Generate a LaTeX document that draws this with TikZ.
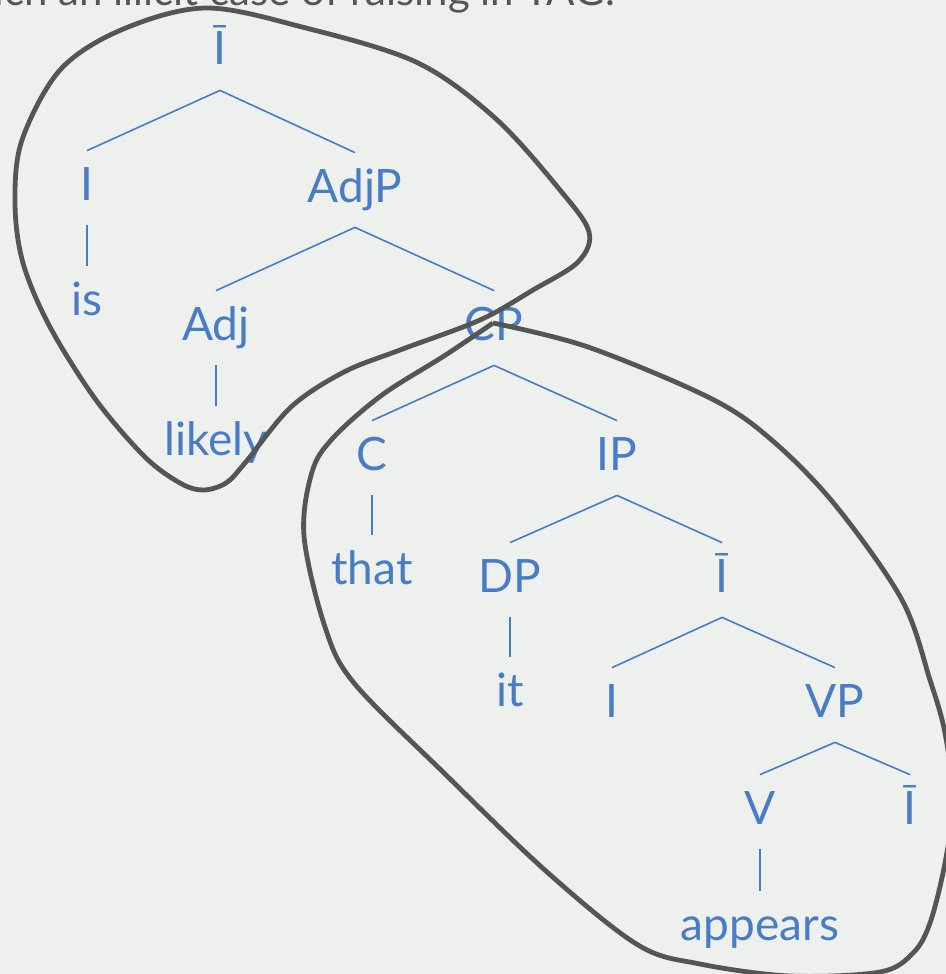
\documentclass[tikz,border=0pt]{standalone}
\usepackage{fontspec}
\setmainfont{Lato}
\usetikzlibrary{math}
\definecolor{qblue}{RGB}{72,124,196}
\definecolor{qgray}{RGB}{85,85,85}
\definecolor{qpaper}{RGB}{238,240,237}

\tikzset{
  cat/.style={text=qblue, font=\fontsize{23}{23}\selectfont, anchor=base,
    text height=17pt, text depth=5pt, inner xsep=0pt, inner ysep=7.5pt},
  branch/.style={qblue, line width=0.8pt},
  treeline/.style={qgray, line width=2.4pt, line join=round},
}

\begin{document}
\begin{tikzpicture}[x=0.5pt, y=-0.5pt]

\tikzmath{
\W = 946;
\H = 974;
}

\fill[qpaper] (0,0) rectangle (\W,\H);
\useasboundingbox (0,0) rectangle (\W,\H);
\clip (0,0) rectangle (\W,\H);

\node[anchor=base east, text=qgray, font=\fontsize{21}{21}\selectfont] (title)
  at (622,6) {Such an illicit case of raising in TAG.};

% auxiliary tree: I-bar over is likely
\node[cat] (ibar)   at (220,65)  {Ī};
\node[cat] (infl)   at (87,200)  {I};
\node[cat] (adjp)   at (355,202) {AdjP};
\node[cat] (is)     at (87,315)  {is};
\node[cat] (adj)    at (216,340) {Adj};
\node[cat] (likely) at (216,455) {likely};

% initial tree: CP that it appears
\node[cat] (cp)       at (494,340) {CP};
\node[cat] (comp)     at (372,470) {C};
\node[cat] (ip)       at (617,470) {IP};
\node[cat] (that)     at (372,584) {that};
\node[cat] (dp)       at (510,592) {DP};
\node[cat] (ibarlow)  at (722,592) {Ī};
\node[cat] (it)       at (510,706) {it};
\node[cat] (infllow)  at (612,717) {I};
\node[cat] (vp)       at (835,717) {VP};
\node[cat] (verb)     at (760,824) {V};
\node[cat] (ibarfoot) at (910,824) {Ī};
\node[cat] (appears)  at (760,940) {appears};

\foreach \a/\b in {ibar/infl, ibar/adjp, infl/is, adjp/adj, adjp/cp, adj/likely,
  cp/comp, cp/ip, comp/that, ip/dp, ip/ibarlow, dp/it,
  ibarlow/infllow, ibarlow/vp, vp/verb, vp/ibarfoot, verb/appears}{
  \draw[branch] (\a.south) -- (\b.north);
}

% outlines of the two trees
\draw[treeline] plot[smooth cycle, tension=0.55] coordinates {
  (205,8) (302,27) (416,62) (495,118) (560,190) (589,232) (578,262)
  (533,290) (480,320) (400,350) (344,372) (291,407) (245,463) (226,483)
  (203,490) (180,483) (145,457) (96,400) (50,327) (23,263) (15,203)
  (22,140) (60,70) (121,30)};

\draw[treeline] plot[smooth, tension=0.55] coordinates {
  (493,323) (588,347) (712,399) (774,442) (836,506) (902,600) (930,680)
  (945,733) (953,800) (945,863) (930,923) (913,953) (880,972) (790,976)
  (700,964) (638,945) (547,872) (444,773) (354,683) (325,627) (304,536)
  (312,472) (333,438) (382,395) (444,356) (493,323)};

\end{tikzpicture}
\end{document}
